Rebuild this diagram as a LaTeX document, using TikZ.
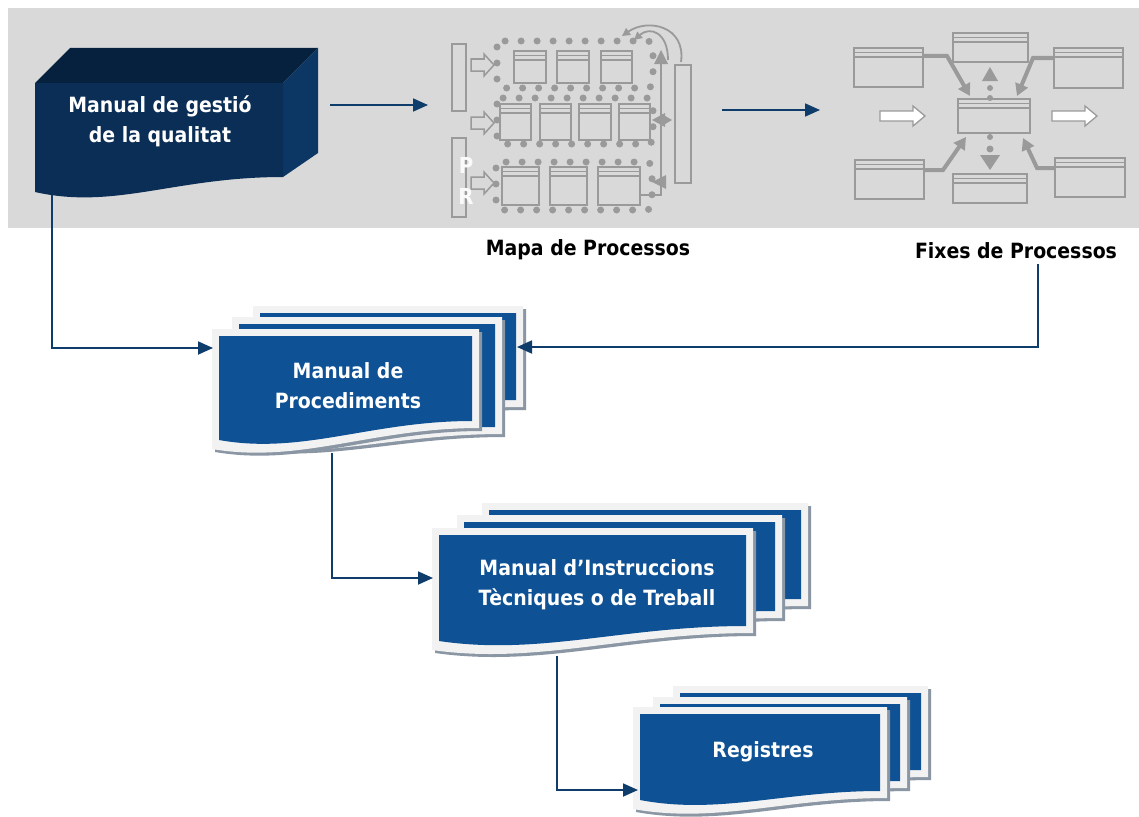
\documentclass[tikz,border=0pt]{standalone}
\usepackage{fontspec}
\newfontfamily\tfont{DejaVu Sans Condensed Bold}
\usetikzlibrary{arrows.meta}
\definecolor{bggray}{HTML}{D9D9D9}
\definecolor{navyfront}{HTML}{0B2E56}
\definecolor{navytop}{HTML}{05213D}
\definecolor{navyside}{HTML}{0C3765}
\definecolor{docblue}{HTML}{0E5194}
\definecolor{pagec}{HTML}{F2F2F2}
\definecolor{shadowc}{HTML}{8A96A3}
\definecolor{connc}{HTML}{0F3D6B}
\definecolor{mapgray}{HTML}{9A9A9A}
\newcommand\wavebox[6]{\fill[#1] ({#2},{#3}) -- ({#4},{#3}) -- ({#4},{#6}) .. controls ({(#2)+0.6*((#4)-(#2))},{#6}) and ({(#2)+0.33*((#4)-(#2))},{(#5)+15}) .. ({#2},{#5}) -- cycle;}
\newcommand\docpage[5]{%
  \wavebox{shadowc}{(#1)+3}{(#2)+3}{(#3)+3}{(#4)+3}{(#5)+3}
  \wavebox{pagec}{#1}{#2}{#3}{#4}{#5}
  \wavebox{docblue}{(#1)+7}{(#2)+7}{(#3)-7}{(#4)-9}{(#5)-7}}
\newcommand\mapbox[4]{%
  \draw (#1,#2) rectangle (#3,#4);
  \draw (#1,{#2+4.5}) -- (#3,{#2+4.5});
  \draw (#1,{#2+9}) -- (#3,{#2+9});}
\tikzset{
  wtext/.style={text=white, font=\tfont\fontsize{21}{30}\selectfont, align=center, inner sep=0pt},
  ltext/.style={text=black, font=\tfont\fontsize{21}{30}\selectfont, inner sep=0pt},
  conn/.style={draw=connc, line width=1.8pt, -{Triangle[length=15pt,width=13pt]}},
  maparrow/.style={draw=mapgray, line width=4pt, -{Triangle[length=12pt,width=13pt]}},
  dotring/.style={draw=mapgray, line width=7pt, line cap=round, dash pattern=on 0pt off 16pt, rounded corners=6pt},
}
\begin{document}
\begin{tikzpicture}[x=1pt, y=-1pt]
\useasboundingbox (0,0) rectangle (1139,816);
\fill[white] (0,0) rectangle (1139,816);
% grey band
\fill[bggray] (8,8) rectangle (1139,228);

% 3D box
\fill[navytop] (35,83) -- (70,48) -- (318,48) -- (283,83) -- cycle;
\fill[navyside] (283,83) -- (318,48) -- (318,153) -- (283,177) -- cycle;
\fill[navyfront] (35,83) -- (283,83) -- (283,177) .. controls (175,177) and (115,210) .. (35,192) -- cycle;
\node[wtext] (mgq) at (160,121) {Manual de gestió\\de la qualitat};

% ---- Mapa de processos picture
\begin{scope}[draw=mapgray, line width=1.8pt]
  \draw (452,44) rectangle (466,111);
  \draw (452,138) rectangle (466,217);
  \draw (675,65) rectangle (691,183);
  \draw[dotring] (497,41) rectangle (653,88);
  \draw[dotring] (497,98) rectangle (653,144);
  \draw[dotring] (496,162) rectangle (652,210);
  \foreach \a/\b in {514/546,557/589,601/632} {\mapbox{\a}{51}{\b}{83}}
  \foreach \a/\b in {500/531,540/571,579/611,619/650} {\mapbox{\a}{104}{\b}{140}}
  \foreach \a/\b in {502/539,550/587,598/640} {\mapbox{\a}{167}{\b}{205}}
  \foreach \y in {65,123,183} {
    \draw[fill=bggray, line width=1.5pt] (471,{\y-6}) -- (484,{\y-6}) -- (484,{\y-11}) -- (494,\y) -- (484,{\y+11}) -- (484,{\y+6}) -- (471,{\y+6}) -- cycle;}
  \draw (641,195) -- (661,195) -- (661,60);
  \fill[mapgray] (661,50) -- (654,64) -- (668,64) -- cycle;
  \fill[mapgray] (652,120) -- (665,113) -- (665,127) -- cycle;
  \fill[mapgray] (672,120) -- (660,113) -- (660,127) -- cycle;
  \fill[mapgray] (652,182) -- (666,175) -- (666,189) -- cycle;
  \draw[-{Triangle[length=8pt,width=8pt]}] (681,62) .. controls (686,26) and (648,18) .. (622,36);
  \draw[-{Triangle[length=8pt,width=8pt]}] (668,60) .. controls (668,32) and (650,26) .. (634,40);
\end{scope}
\node[text=white!96!gray, font=\tfont\fontsize{22}{22}\selectfont, inner sep=0pt] (pletter) at (466,165) {P};
\node[text=white!96!gray, font=\tfont\fontsize{22}{22}\selectfont, inner sep=0pt] (rletter) at (466,196) {R};

% ---- Fixes de processos picture
\begin{scope}[draw=mapgray, line width=1.8pt]
  \mapbox{854}{48}{923}{87}
  \mapbox{953}{33}{1028}{62}
  \mapbox{1054}{48}{1123}{88}
  \mapbox{958}{99}{1030}{133}
  \mapbox{855}{160}{924}{199}
  \mapbox{953}{174}{1027}{203}
  \mapbox{1055}{158}{1125}{197}
  \draw[maparrow] (923,56) -- (947,56) -- (970,96);
  \draw[maparrow] (1054,58) -- (1033,58) -- (1017,96);
  \draw[maparrow] (924,170) -- (943,170) -- (966,137);
  \draw[maparrow] (1055,168) -- (1037,168) -- (1023,138);
  \fill[mapgray] (990,67) -- (982,81) -- (998,81) -- cycle;
  \fill[mapgray] (990,88) circle (3);
  \fill[mapgray] (990,98) circle (3);
  \fill[mapgray] (990,137) circle (3);
  \fill[mapgray] (990,149) circle (3.5);
  \fill[mapgray] (990,170) -- (980,155) -- (1000,155) -- cycle;
  \foreach \dx in {0,172} {
    \draw[fill=white, line width=1.3pt] ({880+\dx},111) -- ({913+\dx},111) -- ({913+\dx},106) -- ({925+\dx},116) -- ({913+\dx},126) -- ({913+\dx},121) -- ({880+\dx},121) -- cycle;}
\end{scope}

% labels
\node[ltext] (mapl) at (588,250) {Mapa de Processos};
\node[ltext] (fixl) at (1016,251) {Fixes de Processos};

% ---- document stacks
\docpage{253}{306}{523}{420}{407}
\docpage{232}{317}{502}{446}{434}
\docpage{212}{329}{479}{449}{428}
\node[wtext] (proc) at (348,386) {Manual de\\Procediments};

\docpage{482}{503}{808}{625}{606}
\docpage{457}{515}{782}{640}{618}
\docpage{432}{528}{753}{650}{633}
\node[wtext] (instr) at (597,585) {Manual d’Instruccions\\Tècniques o de Treball};

\docpage{673}{686}{928}{792}{777}
\docpage{653}{697}{907}{802}{788}
\docpage{633}{707}{887}{809}{798}
\node[wtext] (reg) at (763,752) {Registres};

% ---- connectors
\coordinate (qR) at (330,105);
\coordinate (mapL) at (428,105);
\coordinate (mapR) at (722,110);
\coordinate (fixL) at (820,110);
\coordinate (qfoot) at (52,195);
\coordinate (procin) at (213,348);
\coordinate (fixfoot) at (1038,264);
\coordinate (procR) at (517,347);
\coordinate (procfoot) at (332,453);
\coordinate (instrin) at (433,578);
\coordinate (instrfoot) at (557,656);
\coordinate (regin) at (638,790);
\draw[conn] (qR) -- (mapL);
\draw[conn] (mapR) -- (fixL);
\draw[conn] (qfoot) |- (procin);
\draw[conn] (fixfoot) |- (procR);
\draw[conn] (procfoot) |- (instrin);
\draw[conn] (instrfoot) |- (regin);
\end{tikzpicture}
\end{document}
